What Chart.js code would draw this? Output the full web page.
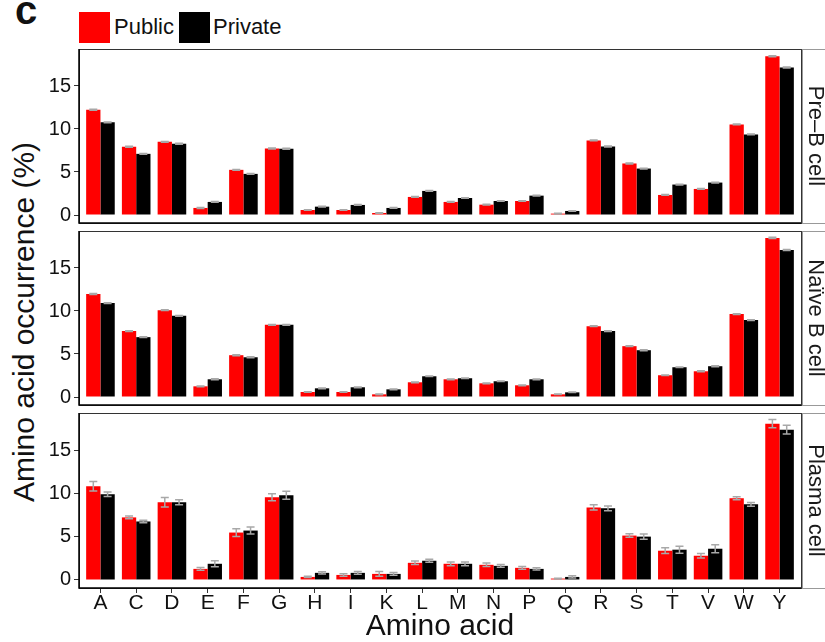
<!DOCTYPE html>
<html>
<head>
<meta charset="utf-8">
<script src="https://cdn.jsdelivr.net/npm/chart.js@4.4.1/dist/chart.umd.min.js"></script>
<style>
  body { margin: 0; width: 825px; height: 642px; background: #fff; position: relative; overflow: hidden;
         font-family: "Liberation Sans", Arial, sans-serif; color: #111; }
  canvas { position: absolute; left: 0; }
  .txt { position: absolute; white-space: nowrap; }
  .sw { position: absolute; width: 31px; height: 31px; top: 12px; }
</style>
</head>
<body>
<div class="txt" style="left:15px; top:-12px; font-size:40px; font-weight:bold;">c</div>
<div class="sw" style="left:79px; background:#ff0000;"></div>
<div class="txt" style="left:114px; top:14px; font-size:22px; line-height:26px;">Public</div>
<div class="sw" style="left:179px; background:#000000;"></div>
<div class="txt" style="left:213px; top:14px; font-size:22px; line-height:26px;">Private</div>
<div class="txt" id="ytitle" style="left:-176px; top:304px; width:400px; text-align:center; font-size:30px; line-height:36px; transform:rotate(-90deg);">Amino acid occurrence (%)</div>

<canvas id="p1" width="825" height="182" style="top:45px"></canvas>
<canvas id="p2" width="825" height="182" style="top:227px"></canvas>
<canvas id="p3" width="825" height="233" style="top:409px"></canvas>

<script>
// Datos
const aminoAcids = ["A", "C", "D", "E", "F", "G", "H", "I", "K", "L", "M", "N", "P", "Q", "R", "S", "T", "V", "W", "Y"];
const yTicks = [0, 5, 10, 15];
const panelNames = ["Pre\u2013B cell", "Na\u00efve B cell", "Plasma cell"];

const preBPublic = [12.24, 7.93, 8.51, 0.82, 5.25, 7.73, 0.58, 0.58, 0.23, 2.10, 1.52, 1.20, 1.63, 0.16, 8.67, 5.99, 2.33, 3.03, 10.53, 18.46];
const preBPrivate = [10.77, 7.11, 8.28, 1.52, 4.78, 7.70, 0.97, 1.17, 0.82, 2.80, 1.98, 1.63, 2.25, 0.47, 7.97, 5.40, 3.54, 3.77, 9.37, 17.14];
const preBPublicErr = [0.05, 0.05, 0.05, 0.05, 0.05, 0.05, 0.04, 0.04, 0.04, 0.04, 0.04, 0.04, 0.04, 0.03, 0.05, 0.05, 0.04, 0.05, 0.05, 0.06];
const preBPrivateErr = [0.05, 0.05, 0.05, 0.05, 0.05, 0.05, 0.04, 0.04, 0.04, 0.04, 0.04, 0.04, 0.04, 0.03, 0.05, 0.05, 0.04, 0.05, 0.05, 0.06];

const naivePublic = [11.97, 7.66, 10.10, 1.24, 4.86, 8.39, 0.58, 0.58, 0.31, 1.71, 2.06, 1.59, 1.36, 0.31, 8.24, 5.91, 2.53, 2.99, 9.64, 18.50];
const naivePrivate = [10.92, 6.96, 9.44, 2.06, 4.62, 8.39, 1.01, 1.13, 0.89, 2.41, 2.18, 1.83, 2.06, 0.54, 7.66, 5.44, 3.46, 3.58, 8.94, 17.10];
const naivePublicErr = [0.05, 0.05, 0.05, 0.05, 0.05, 0.05, 0.04, 0.04, 0.04, 0.04, 0.04, 0.04, 0.04, 0.03, 0.05, 0.05, 0.04, 0.05, 0.05, 0.06];
const naivePrivateErr = [0.05, 0.05, 0.05, 0.05, 0.05, 0.05, 0.04, 0.04, 0.04, 0.04, 0.04, 0.04, 0.04, 0.03, 0.05, 0.05, 0.04, 0.05, 0.05, 0.06];

const plasmaPublic = [10.84, 7.23, 8.98, 1.28, 5.48, 9.56, 0.35, 0.58, 0.70, 1.98, 1.87, 1.75, 1.40, 0.16, 8.39, 5.13, 3.38, 2.80, 9.44, 18.07];
const plasmaPrivate = [9.91, 6.76, 8.98, 1.87, 5.71, 9.79, 0.82, 0.82, 0.70, 2.22, 1.87, 1.63, 1.28, 0.35, 8.28, 5.01, 3.50, 3.61, 8.74, 17.37];
const plasmaPublicErr = [0.55, 0.15, 0.55, 0.15, 0.45, 0.40, 0.08, 0.15, 0.27, 0.20, 0.22, 0.20, 0.15, 0.05, 0.30, 0.20, 0.33, 0.25, 0.18, 0.47];
const plasmaPrivateErr = [0.27, 0.15, 0.30, 0.35, 0.40, 0.47, 0.13, 0.15, 0.15, 0.18, 0.22, 0.15, 0.13, 0.13, 0.27, 0.30, 0.40, 0.47, 0.22, 0.50];

Chart.defaults.font.family = "'Liberation Sans', Arial, sans-serif";
Chart.defaults.color = "#111";

// barras de error en gris
const errorBars = {
  id: "errorBars",
  afterDatasetsDraw(chart) {
    const ctx = chart.ctx;
    const y = chart.scales.y;
    ctx.save();
    ctx.strokeStyle = "#a8a8a8";
    ctx.lineWidth = 1.5;
    chart.data.datasets.forEach((ds, i) => {
      const meta = chart.getDatasetMeta(i);
      meta.data.forEach((bar, j) => {
        const v = ds.data[j].y;
        const e = ds.errors[j];
        const top = y.getPixelForValue(v + e);
        const bot = y.getPixelForValue(v - e);
        const half = 4;
        ctx.beginPath();
        ctx.moveTo(bar.x, top); ctx.lineTo(bar.x, bot);
        ctx.moveTo(bar.x - half, top); ctx.lineTo(bar.x + half, top);
        ctx.moveTo(bar.x - half, bot); ctx.lineTo(bar.x + half, bot);
        ctx.stroke();
      });
    });
    ctx.restore();
  }
};

// marco del panel y etiqueta lateral
const panelFrame = {
  id: "panelFrame",
  afterDraw(chart, args, opts) {
    const { left, right, top, bottom } = chart.chartArea;
    const ctx = chart.ctx;
    ctx.save();
    ctx.fillStyle = "#fff";
    ctx.fillRect(right, top, 40, bottom - top);
    ctx.strokeStyle = "#999";
    ctx.lineWidth = 1;
    ctx.strokeRect(right + 1.5, top + 0.5, 40, bottom - top);
    ctx.strokeStyle = "#333";
    ctx.strokeRect(left + 0.5, top + 0.5, right - left, bottom - top);
    ctx.strokeStyle = "#000";
    ctx.lineWidth = 1.5;
    ctx.beginPath();
    ctx.moveTo(left, top); ctx.lineTo(left, bottom); ctx.lineTo(right, bottom);
    ctx.stroke();
    ctx.translate(right + 8, (top + bottom) / 2);
    ctx.rotate(Math.PI / 2);
    ctx.fillStyle = "#1a1a1a";
    ctx.font = "22px 'Liberation Sans', Arial, sans-serif";
    ctx.textAlign = "center";
    ctx.textBaseline = "alphabetic";
    ctx.fillText(opts.label, 0, 0);
    ctx.restore();
  }
};

const toPoints = (vals) => vals.map((v, i) => ({ x: i, y: v }));

function makePanel(id, label, pub, priv, pubErr, privErr, showX) {
  new Chart(document.getElementById(id), {
    type: "bar",
    data: {
      datasets: [
        { label: "Public", data: toPoints(pub), errors: pubErr, backgroundColor: "#ff0000" },
        { label: "Private", data: toPoints(priv), errors: privErr, backgroundColor: "#000000" }
      ]
    },
    options: {
      responsive: false,
      animation: false,
      layout: { padding: { top: 4, bottom: showX ? 0 : 4, left: 0, right: 24 } },
      datasets: { bar: { categoryPercentage: 0.8, barPercentage: 1.0, borderWidth: 0 } },
      plugins: {
        legend: { display: false },
        tooltip: { enabled: false },
        panelFrame: { label: label }
      },
      scales: {
        x: {
          type: "linear",
          display: showX,
          min: -0.6,
          max: aminoAcids.length - 0.4,
          offset: false,
          grid: { display: true, offset: false, drawOnChartArea: false, tickLength: 5, color: "#333" },
          border: { display: false },
          ticks: {
            autoSkip: false, maxRotation: 0, includeBounds: false,
            font: { size: 21, lineHeight: 1 }, padding: 0, color: "#111",
            callback: (v) => (Number.isInteger(v) ? aminoAcids[v] : "")
          },
          afterBuildTicks(scale) { scale.ticks = aminoAcids.map((a, i) => ({ value: i })); },
          title: { display: showX, text: "Amino acid", font: { size: 30, lineHeight: 1 }, padding: 0, color: "#111" },
          afterFit(scale) {
            scale.height = showX ? 54 : 0;
            scale.paddingLeft = 0; scale.paddingRight = 0;
          }
        },
        y: {
          min: -0.93,
          max: 19.3,
          grid: { display: true, drawOnChartArea: false, tickLength: 5, color: "#333" },
          border: { display: false },
          ticks: { font: { size: 20 }, padding: 3, color: "#111" },
          afterBuildTicks(scale) { scale.ticks = yTicks.map(v => ({ value: v })); },
          afterFit(scale) {
            scale.width = 79;
            scale.paddingTop = 0; scale.paddingBottom = 0;
          }
        }
      }
    },
    plugins: [errorBars, panelFrame]
  });
}

makePanel("p1", panelNames[0], preBPublic, preBPrivate, preBPublicErr, preBPrivateErr, false);
makePanel("p2", panelNames[1], naivePublic, naivePrivate, naivePublicErr, naivePrivateErr, false);
makePanel("p3", panelNames[2], plasmaPublic, plasmaPrivate, plasmaPublicErr, plasmaPrivateErr, true);
</script>
</body>
</html>
